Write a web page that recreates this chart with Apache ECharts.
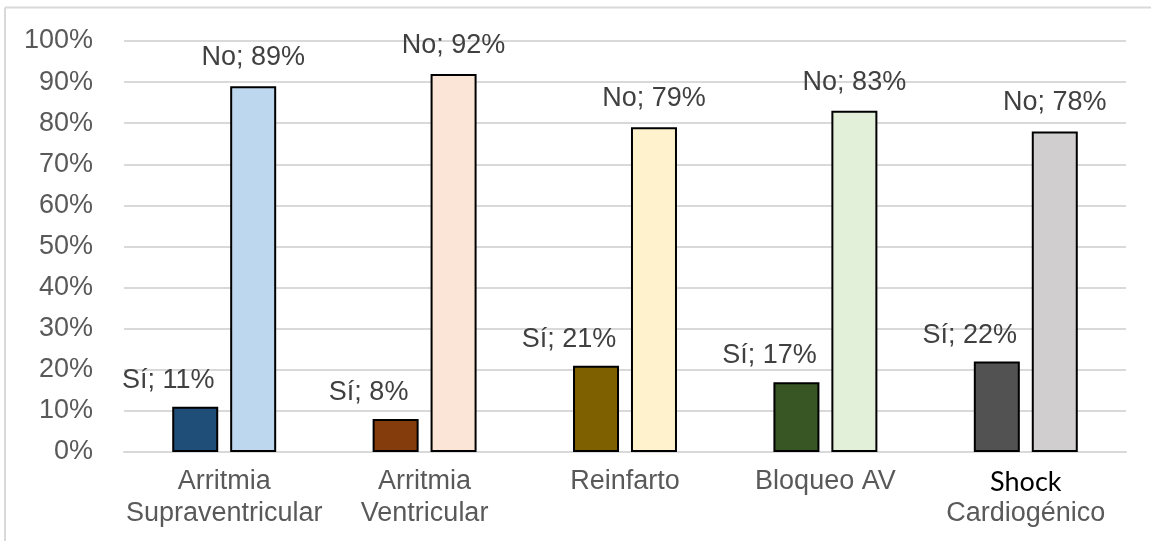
<!DOCTYPE html>
<html>
<head>
<meta charset="utf-8">
<script src="https://cdn.jsdelivr.net/npm/echarts@6/dist/echarts.min.js"></script>
<style>html,body{margin:0;padding:0;background:#fff;}#c{width:1151px;height:541px;}</style>
</head>
<body>
<div id="c"></div>
<script>
const categories = ['Arritmia\nSupraventricular', 'Arritmia\nVentricular', 'Reinfarto', 'Bloqueo AV', 'Shock\nCardiogénico'];
const siValues = [11, 8, 21, 17, 22];
const noValues = [89, 92, 79, 83, 78];
const siColors = ['#1F4E79', '#843C0C', '#7F6000', '#375623', '#525252'];
const noColors = ['#BDD7EE', '#FBE5D6', '#FFF2CC', '#E2F0D9', '#D0CECE'];
const yTicks = [0, 10, 20, 30, 40, 50, 60, 70, 80, 90, 100];

const chart = echarts.init(document.getElementById('c'), null, {renderer: 'canvas'});
const font = 'Liberation Sans, Arial, sans-serif';
chart.setOption({
  animation: false,
  backgroundColor: '#fff',
  graphic: [
    {type: 'line', shape: {x1: 5, y1: 7.5, x2: 1151, y2: 7.5}, style: {stroke: '#D9D9D9', lineWidth: 2}},
    {type: 'line', shape: {x1: 5, y1: 7.5, x2: 5, y2: 541}, style: {stroke: '#D9D9D9', lineWidth: 2}}
  ],
  grid: {left: 124, right: 25, top: 41, bottom: 89, containLabel: false},
  xAxis: {
    type: 'category',
    data: categories,
    axisLine: {show: true, lineStyle: {color: '#D9D9D9', width: 2}},
    axisTick: {show: false},
    axisLabel: {
      interval: 0,
      margin: 14,
      fontFamily: font,
      fontSize: 27,
      color: '#595959',
      lineHeight: 32,
      formatter: function (v) {
        return v.replace('Shock', '{s|Shock}');
      },
      rich: {
        s: {fontFamily: 'Lato, Carlito, sans-serif', fontSize: 27, color: '#000', lineHeight: 32}
      }
    }
  },
  yAxis: {
    type: 'value',
    min: yTicks[0],
    max: yTicks[yTicks.length - 1],
    interval: 10,
    axisLine: {show: false},
    axisTick: {show: false},
    splitLine: {lineStyle: {color: '#D9D9D9', width: 2}},
    axisLabel: {margin: 31, fontFamily: font, fontSize: 27, color: '#595959', formatter: '{value}%'}
  },
  series: [
    {
      name: 'Sí',
      type: 'bar',
      barWidth: 46,
      barGap: '26%',
      data: siValues.map((v, i) => ({value: v, itemStyle: {color: siColors[i]}})),
      itemStyle: {borderColor: '#000', borderWidth: 2},
      label: {show: true, position: 'top', distance: 13, offset: [-27, 0], fontFamily: font, fontSize: 27, color: '#404040', formatter: p => 'Sí; ' + p.value + '%'}
    },
    {
      name: 'No',
      type: 'bar',
      barWidth: 46,
      barGap: '26%',
      data: noValues.map((v, i) => ({value: v, itemStyle: {color: noColors[i]}})),
      itemStyle: {borderColor: '#000', borderWidth: 2},
      label: {show: true, position: 'top', distance: 15, fontFamily: font, fontSize: 27, color: '#404040', formatter: p => 'No; ' + p.value + '%'}
    }
  ]
});
</script>
</body>
</html>
